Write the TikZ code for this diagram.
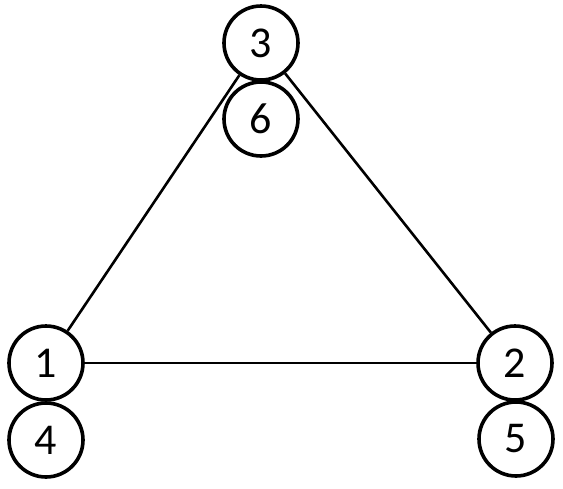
\documentclass[tikz,border=0pt]{standalone}
\usepackage{fontspec}
\setmainfont{Carlito}
\begin{document}
\begin{tikzpicture}[x=1pt,y=1pt,
  vert/.style={circle, draw, line width=3.6pt, minimum size=74pt, inner sep=0pt, font=\fontsize{44}{44}\selectfont},
  edge/.style={line width=2.6pt}]
\useasboundingbox (0,0) rectangle (563,-488);
\node[vert] (n3) at (261,-43) {3};
\node[vert] (n6) at (261,-119) {6};
\node[vert] (n1) at (46,-363) {1};
\node[vert] (n4) at (46,-440) {4};
\node[vert] (n2) at (515,-363) {2};
\node[vert] (n5) at (516,-439) {5};
\draw[edge] (n3) -- (n1);
\draw[edge] (n3) -- (n2);
\draw[edge] (n1) -- (n2);
\end{tikzpicture}
\end{document}
